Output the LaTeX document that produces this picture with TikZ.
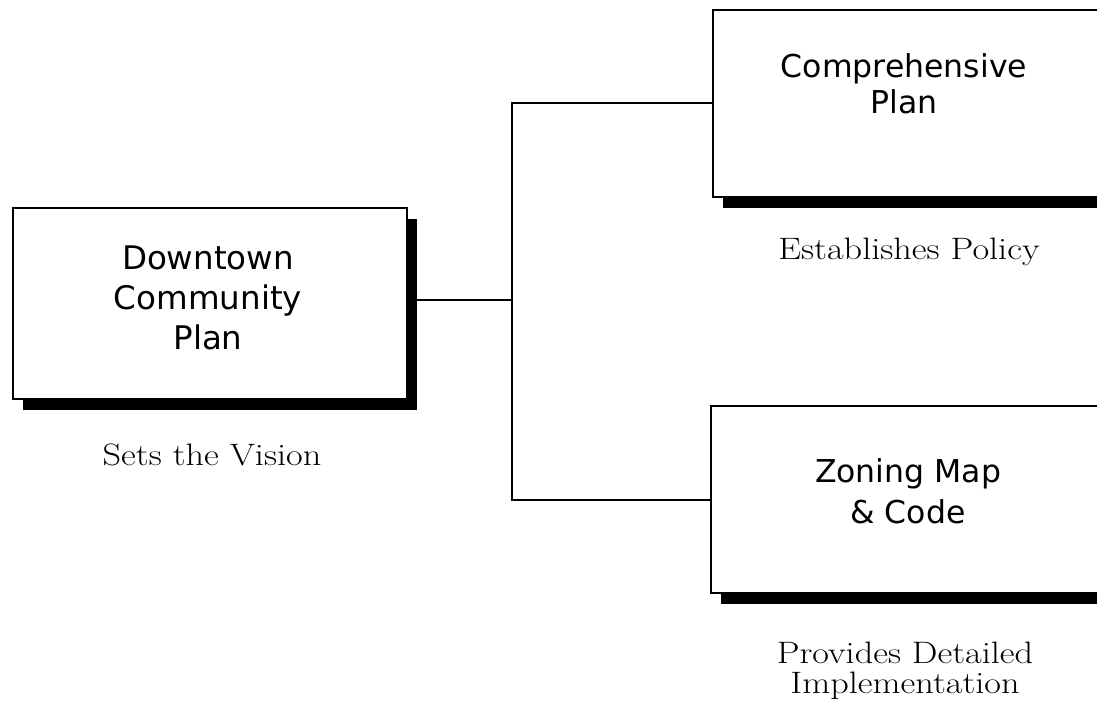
\documentclass[tikz,border=0pt]{standalone}
\usepackage{fontspec}
\newfontfamily\boxfont{DejaVu Sans}
\newfontfamily\capfont{Latin Modern Roman}[FakeStretch=1.17]
\usetikzlibrary{shadows}
\begin{document}
\begin{tikzpicture}[x=1pt,y=-1pt,
  box/.style={draw=black, line width=2pt, fill=white, inner sep=0pt,
    general shadow={fill=black, shadow xshift=10pt, shadow yshift=-11pt}},
  boxtext/.style={align=center, inner sep=0pt, text=black},
  caption/.style={align=center, inner sep=0pt, text=black,
    font=\capfont\fontsize{31}{30}\selectfont},
  conn/.style={draw=black, line width=2pt}]
\useasboundingbox[fill=white] (0,0) rectangle (1097,708);
% boxes
\node[box, minimum width=394pt, minimum height=191pt] (dcp) at (210,303.5) {};
\node[box, minimum width=387pt, minimum height=187pt] (cp) at (906.5,103.5) {};
\node[box, minimum width=389pt, minimum height=187pt] (zm) at (905.5,499.5) {};
% box texts
\node[boxtext, font=\boxfont\fontsize{32.5}{40}\selectfont] (dcpt) at (208,298) {Downtown\\Community\\Plan};
\node[boxtext, font=\boxfont\fontsize{31.5}{36}\selectfont] (cpt) at (904,83.5) {Comprehensive\\Plan};
\node[boxtext, font=\boxfont\fontsize{31.5}{41}\selectfont] (zmt) at (908,491) {Zoning Map\\\& Code};
% captions
\node[caption, anchor=base] (vis) at (212,465) {Sets the Vision};
\node[caption, anchor=base] (pol) at (909,260) {Establishes Policy};
\node[caption, anchor=north] (impl) at (905,641.5) {Provides Detailed\\Implementation};
% connectors
\coordinate (j) at (512,300);
\draw[conn] (dcp.east |- j) -- (j);
\draw[conn] (cp.west) -| (j) |- (zm.west);
\end{tikzpicture}
\end{document}
